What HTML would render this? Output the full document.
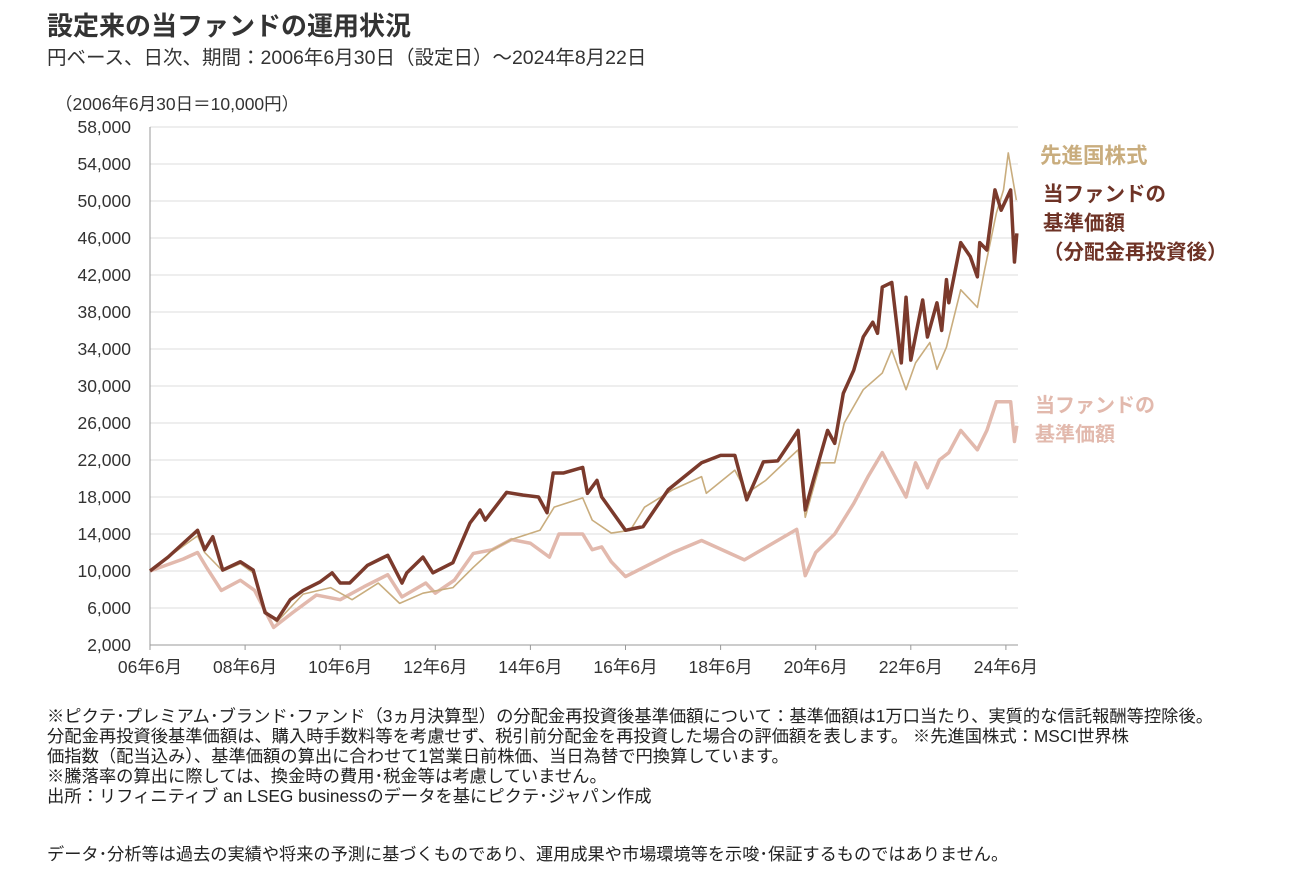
<!DOCTYPE html>
<html><head><meta charset="utf-8"><style>
body{margin:0;background:#fff;width:1313px;height:871px;overflow:hidden;font-family:"Liberation Sans","Noto Sans CJK JP",sans-serif;color:#222}
.t{position:absolute;white-space:nowrap}
</style></head><body>
<div class="t" style="left:47px;top:6px;font-size:26px;font-weight:bold;color:#333">設定来の当ファンドの運用状況</div>
<div class="t" style="left:47px;top:41px;font-size:19.5px;color:#333">円ベース、日次、期間：2006年6月30日（設定日）～2024年8月22日</div>
<div class="t" style="left:47px;top:706px;font-size:17.3px;line-height:20px;color:#222">※ピクテ･プレミアム･ブランド･ファンド（3ヵ月決算型）の分配金再投資後基準価額について：基準価額は1万口当たり、実質的な信託報酬等控除後。<br>分配金再投資後基準価額は、購入時手数料等を考慮せず、税引前分配金を再投資した場合の評価額を表します。 ※先進国株式：MSCI世界株<br>価指数（配当込み）、基準価額の算出に合わせて1営業日前株価、当日為替で円換算しています。<br>※騰落率の算出に際しては、換金時の費用･税金等は考慮していません。<br>出所：リフィニティブ an LSEG businessのデータを基にピクテ･ジャパン作成</div>
<div class="t" style="left:47px;top:840px;font-size:17.2px;color:#222">データ･分析等は過去の実績や将来の予測に基づくものであり、運用成果や市場環境等を示唆･保証するものではありません。</div>
<svg id="c" width="1313" height="871" style="position:absolute;left:0;top:0"></svg>
<script>
const yTicks=[2000,6000,10000,14000,18000,22000,26000,30000,34000,38000,42000,46000,50000,54000,58000];
const xTickYears=[2006.5,2008.5,2010.5,2012.5,2014.5,2016.5,2018.5,2020.5,2022.5,2024.5];
const xTickLabels=["06年6月","08年6月","10年6月","12年6月","14年6月","16年6月","18年6月","20年6月","22年6月","24年6月"];
const fundDates=[2006.5,2006.88,2007.2,2007.5,2007.65,2007.82,2008.03,2008.4,2008.67,2008.92,2009.17,2009.45,2009.72,2010.07,2010.33,2010.5,2010.7,2011.07,2011.5,2011.8,2011.9,2012.24,2012.45,2012.87,2013.23,2013.44,2013.55,2014.0,2014.35,2014.67,2014.85,2014.98,2015.2,2015.6,2015.7,2015.9,2016.0,2016.5,2016.87,2017.4,2018.1,2018.5,2018.8,2019.05,2019.4,2019.7,2020.13,2020.28,2020.45,2020.75,2020.9,2021.08,2021.3,2021.5,2021.7,2021.8,2021.9,2022.1,2022.3,2022.4,2022.5,2022.75,2022.85,2023.05,2023.15,2023.25,2023.3,2023.55,2023.75,2023.9,2023.95,2024.1,2024.27,2024.4,2024.6,2024.68,2024.73];
const fundReinvested=[10000,11500,13000,14400,12300,13700,10100,11000,10100,5500,4700,6900,7900,8800,9800,8700,8700,10600,11700,8700,9800,11500,9800,10900,15200,16600,15500,18500,18200,18000,16300,20600,20600,21200,18400,19800,18000,14400,14800,18800,21700,22500,22500,17700,21800,21900,25200,16600,19800,25200,23800,29200,31700,35300,36900,35700,40700,41200,32500,39600,32800,39300,35300,39000,36000,41500,39000,45500,44000,41800,45500,44700,51200,49000,51200,43400,46500];
const msciDates=[2006.5,2007.2,2007.5,2007.65,2008.03,2008.4,2008.67,2008.92,2009.17,2009.72,2010.3,2010.75,2011.3,2011.75,2012.24,2012.87,2013.3,2013.7,2014.1,2014.7,2015.0,2015.6,2015.8,2016.2,2016.6,2016.9,2017.5,2018.1,2018.2,2018.8,2019.05,2019.45,2019.9,2020.13,2020.28,2020.6,2020.9,2021.1,2021.5,2021.9,2022.1,2022.4,2022.6,2022.9,2023.05,2023.25,2023.55,2023.9,2024.05,2024.3,2024.45,2024.55,2024.72];
const msciWorld=[10000,12700,13800,12000,10000,10800,9800,5600,4500,7500,8200,6900,8700,6500,7600,8200,10400,12300,13400,14400,16900,17900,15500,14100,14400,16900,18800,20200,18400,20900,18400,19800,22000,23100,15800,21700,21700,26000,29600,31400,33900,29600,32500,34700,31800,34200,40400,38500,42500,48700,51200,55200,50100];
const navDates=[2006.5,2007.2,2007.5,2007.7,2008.0,2008.4,2008.7,2009.1,2009.5,2010.0,2010.5,2011.0,2011.5,2011.8,2012.3,2012.5,2012.9,2013.3,2013.7,2014.1,2014.5,2014.9,2015.1,2015.6,2015.8,2016.0,2016.2,2016.5,2017.5,2018.1,2019.0,2019.5,2020.1,2020.28,2020.5,2020.9,2021.3,2021.6,2021.9,2022.4,2022.6,2022.85,2023.1,2023.3,2023.55,2023.9,2024.1,2024.3,2024.6,2024.68,2024.73];
const fundNav=[10000,11300,12000,10300,7900,9000,7900,3900,5500,7400,6900,8300,9600,7200,8700,7600,9000,11900,12300,13400,13000,11500,14000,14000,12300,12600,11000,9400,12000,13300,11200,12700,14500,9500,12000,14000,17300,20200,22800,18000,21700,19000,22000,22800,25200,23100,25200,28300,28300,24000,25700];

const svg=document.getElementById('c');
const NS='http://www.w3.org/2000/svg';
const X0=150,Y0=645,Y1=127,PXY=47.55;
const xs=d=>X0+(d-2006.5)*PXY;
const ys=v=>Y0-(v-2000)/56000*(Y0-Y1);
function mk(t,a){const e=document.createElementNS(NS,t);for(const k in a)e.setAttribute(k,a[k]);svg.appendChild(e);return e;}
yTicks.forEach(v=>{
  const g=mk('line',{x1:X0,x2:1018,y1:ys(v),y2:ys(v),stroke:v===2000?'#999':'#ddd','stroke-width':1});
  
  
  const t=mk('text',{x:131,y:ys(v)+6,'text-anchor':'end','font-size':17.5,fill:'#333','font-family':'Liberation Sans, sans-serif'});
  t.textContent=v.toLocaleString('en-US');
  
  
});
const ax=mk('line',{x1:X0,x2:X0,y1:Y1,y2:Y0,stroke:'#999','stroke-width':1});


xTickYears.forEach((d,i)=>{
  const tk=mk('line',{x1:xs(d),x2:xs(d),y1:Y0,y2:Y0+5,stroke:'#999'});
  
  
  const t=mk('text',{x:xs(d),y:673,'text-anchor':'middle','font-size':17.5,fill:'#333','font-family':'Liberation Sans, Noto Sans CJK JP, sans-serif'});
  t.textContent=xTickLabels[i];
  
  
});
const u=mk('text',{x:55,y:110,'font-size':17.5,fill:'#333','font-family':'Liberation Sans, Noto Sans CJK JP, sans-serif'});
u.textContent='（2006年6月30日＝10,000円）';


function line(dates,vals,color,w,name){
  const p=mk('polyline',{points:dates.map((d,i)=>xs(d)+','+ys(vals[i])).join(' '),fill:'none',stroke:color,'stroke-width':w,'stroke-linejoin':'round'});
  
  
}
line(navDates,fundNav,'#e2b9ad',3.5,'series-fund-nav');
line(msciDates,msciWorld,'#c9ad7e',1.6,'series-msci-world');
line(fundDates,fundReinvested,'#7b3a2c',3.5,'series-fund-reinvested');
function lab(x,y,lines,color,name,fs){
  const t=mk('text',{x:x,y:y,'font-size':fs,'font-weight':'bold',fill:color,'font-family':'Liberation Sans, Noto Sans CJK JP, sans-serif'});
  
  
  lines.forEach((s,i)=>{const ts=document.createElementNS(NS,'tspan');ts.setAttribute('x',x);ts.setAttribute('dy',i?29:0);ts.textContent=s;t.appendChild(ts);});
}
lab(1040,163,['先進国株式'],'#c9ad7e','label-msci-world',21.5);
lab(1043,201,['当ファンドの','基準価額','（分配金再投資後）'],'#6e3326','label-fund-reinvested',20.5);
lab(1035,412,['当ファンドの','基準価額'],'#e2b9ad','label-fund-nav',20);
</script>
</body></html>
